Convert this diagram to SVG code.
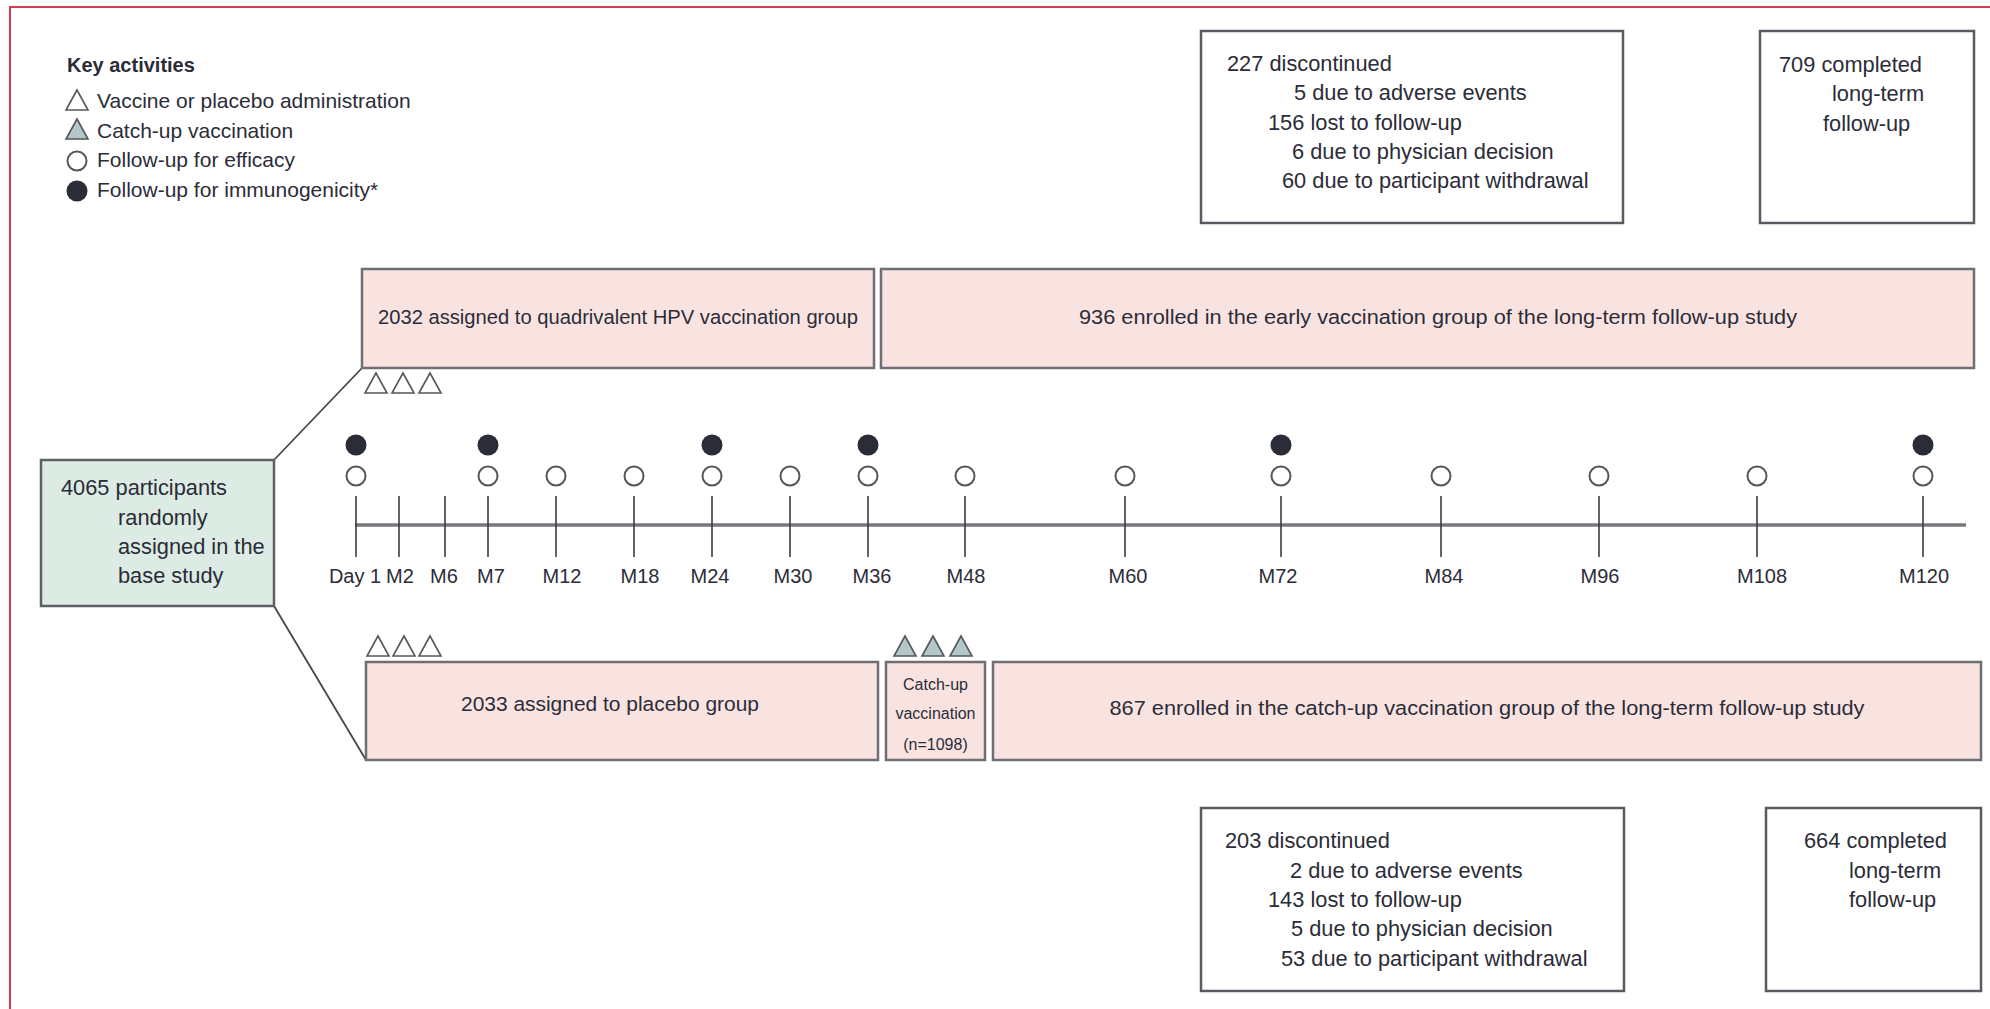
<svg xmlns="http://www.w3.org/2000/svg" width="1990" height="1009" viewBox="0 0 1990 1009">
<style>
  text { font-family: "Liberation Sans", Arial, sans-serif; fill: #2b2c38; }
  .lg { font-size: 21px; }
  .lgh { font-size: 20px; font-weight: bold; }
  .bx { font-size: 20.5px; }
  .dc { font-size: 21.8px; }
  .tl { font-size: 20px; text-anchor: middle; }
  .cu { font-size: 16px; text-anchor: middle; }
  .pink { fill: #f9e3e1; stroke: #6e6e74; stroke-width: 2.5; }
  .green { fill: #dcebe3; stroke: #5e6066; stroke-width: 2.5; }
  .wbox { fill: #ffffff; stroke: #5a5a60; stroke-width: 2.5; }
  .tri { fill: #ffffff; stroke: #55565c; stroke-width: 1.6; }
  .gtri { fill: #b4c7c8; stroke: #55565c; stroke-width: 1.6; }
  .oc { fill: #ffffff; stroke: #55565c; stroke-width: 2; }
  .fc { fill: #2a2c38; }
  .tick { stroke: #3a3a40; stroke-width: 1.6; }
  .conn { stroke: #45464c; stroke-width: 1.8; fill: none; }
</style>
<defs>
  <path id="t" d="M0,-10 L-11,10 L11,10 Z"/>
</defs>

<rect x="10" y="7" width="2000" height="1020" fill="#ffffff" stroke="#d23c55" stroke-width="2"/>

<g id="legend">
  <text class="lgh" x="67" y="72">Key activities</text>
  <use href="#t" class="tri" x="77" y="100"/>
  <text class="lg" x="97" y="108">Vaccine or placebo administration</text>
  <use href="#t" class="gtri" x="77" y="129"/>
  <text class="lg" x="97" y="138">Catch-up vaccination</text>
  <circle class="oc" cx="77" cy="161" r="9.5"/>
  <text class="lg" x="97" y="167">Follow-up for efficacy</text>
  <circle class="fc" cx="77" cy="191" r="10.5"/>
  <text class="lg" x="97" y="197">Follow-up for immunogenicity*</text>
</g>

<g id="connectors">
  <line class="conn" x1="274" y1="460" x2="362" y2="368"/>
  <line class="conn" x1="274" y1="606" x2="366" y2="760"/>
</g>

<g id="base">
  <rect class="green" x="41" y="460" width="233" height="146"/>
  <text class="dc" x="61" y="495">4065 participants</text>
  <text class="dc" x="118" y="525">randomly</text>
  <text class="dc" x="118" y="554">assigned in the</text>
  <text class="dc" x="118" y="583">base study</text>
</g>

<g id="vaccine-group">
  <rect class="pink" x="362" y="269" width="512" height="99"/>
  <text class="bx" x="618" y="324" text-anchor="middle" textLength="480" lengthAdjust="spacingAndGlyphs">2032 assigned to quadrivalent HPV vaccination group</text>
  <use href="#t" class="tri" x="376" y="383"/>
  <use href="#t" class="tri" x="403" y="383"/>
  <use href="#t" class="tri" x="430" y="383"/>
</g>

<g id="early-ltfu">
  <rect class="pink" x="881" y="269" width="1093" height="99"/>
  <text class="bx" x="1438" y="324" text-anchor="middle" textLength="718" lengthAdjust="spacingAndGlyphs">936 enrolled in the early vaccination group of the long-term follow-up study</text>
</g>

<g id="placebo-group">
  <rect class="pink" x="366" y="662" width="512" height="98"/>
  <text class="bx" x="610" y="711" text-anchor="middle" textLength="298" lengthAdjust="spacingAndGlyphs">2033 assigned to placebo group</text>
  <use href="#t" class="tri" x="378" y="646"/>
  <use href="#t" class="tri" x="404" y="646"/>
  <use href="#t" class="tri" x="430" y="646"/>
</g>

<g id="catchup">
  <rect class="pink" x="886" y="662" width="99" height="98"/>
  <text class="cu" x="935.5" y="690">Catch-up</text>
  <text class="cu" x="935.5" y="719">vaccination</text>
  <text class="cu" x="935.5" y="750">(n=1098)</text>
  <use href="#t" class="gtri" x="905" y="646"/>
  <use href="#t" class="gtri" x="933" y="646"/>
  <use href="#t" class="gtri" x="961" y="646"/>
</g>

<g id="catchup-ltfu">
  <rect class="pink" x="993" y="662" width="988" height="98"/>
  <text class="bx" x="1487" y="715" text-anchor="middle" textLength="755" lengthAdjust="spacingAndGlyphs">867 enrolled in the catch-up vaccination group of the long-term follow-up study</text>
</g>

<g id="discontinued-top">
  <rect class="wbox" x="1201" y="31" width="422" height="192"/>
  <text class="dc" x="1227" y="71">227 discontinued</text>
  <text class="dc" x="1294" y="100">5 due to adverse events</text>
  <text class="dc" x="1268" y="130">156 lost to follow-up</text>
  <text class="dc" x="1292" y="159">6 due to physician decision</text>
  <text class="dc" x="1282" y="188">60 due to participant withdrawal</text>
</g>

<g id="completed-top">
  <rect class="wbox" x="1760" y="31" width="214" height="192"/>
  <text class="dc" x="1779" y="72">709 completed</text>
  <text class="dc" x="1832" y="101">long-term</text>
  <text class="dc" x="1823" y="131">follow-up</text>
</g>

<g id="discontinued-bottom">
  <rect class="wbox" x="1201" y="808" width="423" height="183"/>
  <text class="dc" x="1225" y="848">203 discontinued</text>
  <text class="dc" x="1290" y="878">2 due to adverse events</text>
  <text class="dc" x="1268" y="907">143 lost to follow-up</text>
  <text class="dc" x="1291" y="936">5 due to physician decision</text>
  <text class="dc" x="1281" y="966">53 due to participant withdrawal</text>
</g>

<g id="completed-bottom">
  <rect class="wbox" x="1766" y="808" width="215" height="183"/>
  <text class="dc" x="1804" y="848">664 completed</text>
  <text class="dc" x="1849" y="878">long-term</text>
  <text class="dc" x="1849" y="907">follow-up</text>
</g>

<g id="timeline">
  <line x1="355" y1="525" x2="1966" y2="525" stroke="#77777c" stroke-width="3.5"/>
  <g class="tick">
    <line x1="356" y1="496" x2="356" y2="557"/>
    <line x1="399" y1="496" x2="399" y2="557"/>
    <line x1="445" y1="496" x2="445" y2="557"/>
    <line x1="488" y1="496" x2="488" y2="557"/>
    <line x1="556" y1="496" x2="556" y2="557"/>
    <line x1="634" y1="496" x2="634" y2="557"/>
    <line x1="712" y1="496" x2="712" y2="557"/>
    <line x1="790" y1="496" x2="790" y2="557"/>
    <line x1="868" y1="496" x2="868" y2="557"/>
    <line x1="965" y1="496" x2="965" y2="557"/>
    <line x1="1125" y1="496" x2="1125" y2="557"/>
    <line x1="1281" y1="496" x2="1281" y2="557"/>
    <line x1="1441" y1="496" x2="1441" y2="557"/>
    <line x1="1599" y1="496" x2="1599" y2="557"/>
    <line x1="1757" y1="496" x2="1757" y2="557"/>
    <line x1="1923" y1="496" x2="1923" y2="557"/>
  </g>
  <text class="tl" x="355" y="583">Day 1</text>
  <text class="tl" x="400" y="583">M2</text>
  <text class="tl" x="444" y="583">M6</text>
  <text class="tl" x="491" y="583">M7</text>
  <text class="tl" x="562" y="583">M12</text>
  <text class="tl" x="640" y="583">M18</text>
  <text class="tl" x="710" y="583">M24</text>
  <text class="tl" x="793" y="583">M30</text>
  <text class="tl" x="872" y="583">M36</text>
  <text class="tl" x="966" y="583">M48</text>
  <text class="tl" x="1128" y="583">M60</text>
  <text class="tl" x="1278" y="583">M72</text>
  <text class="tl" x="1444" y="583">M84</text>
  <text class="tl" x="1600" y="583">M96</text>
  <text class="tl" x="1762" y="583">M108</text>
  <text class="tl" x="1924" y="583">M120</text>

  <circle class="fc" cx="356" cy="445" r="10.5"/>
  <circle class="fc" cx="488" cy="445" r="10.5"/>
  <circle class="fc" cx="712" cy="445" r="10.5"/>
  <circle class="fc" cx="868" cy="445" r="10.5"/>
  <circle class="fc" cx="1281" cy="445" r="10.5"/>
  <circle class="fc" cx="1923" cy="445" r="10.5"/>

  <circle class="oc" cx="356" cy="476" r="9.5"/>
  <circle class="oc" cx="488" cy="476" r="9.5"/>
  <circle class="oc" cx="556" cy="476" r="9.5"/>
  <circle class="oc" cx="634" cy="476" r="9.5"/>
  <circle class="oc" cx="712" cy="476" r="9.5"/>
  <circle class="oc" cx="790" cy="476" r="9.5"/>
  <circle class="oc" cx="868" cy="476" r="9.5"/>
  <circle class="oc" cx="965" cy="476" r="9.5"/>
  <circle class="oc" cx="1125" cy="476" r="9.5"/>
  <circle class="oc" cx="1281" cy="476" r="9.5"/>
  <circle class="oc" cx="1441" cy="476" r="9.5"/>
  <circle class="oc" cx="1599" cy="476" r="9.5"/>
  <circle class="oc" cx="1757" cy="476" r="9.5"/>
  <circle class="oc" cx="1923" cy="476" r="9.5"/>
</g>
</svg>
